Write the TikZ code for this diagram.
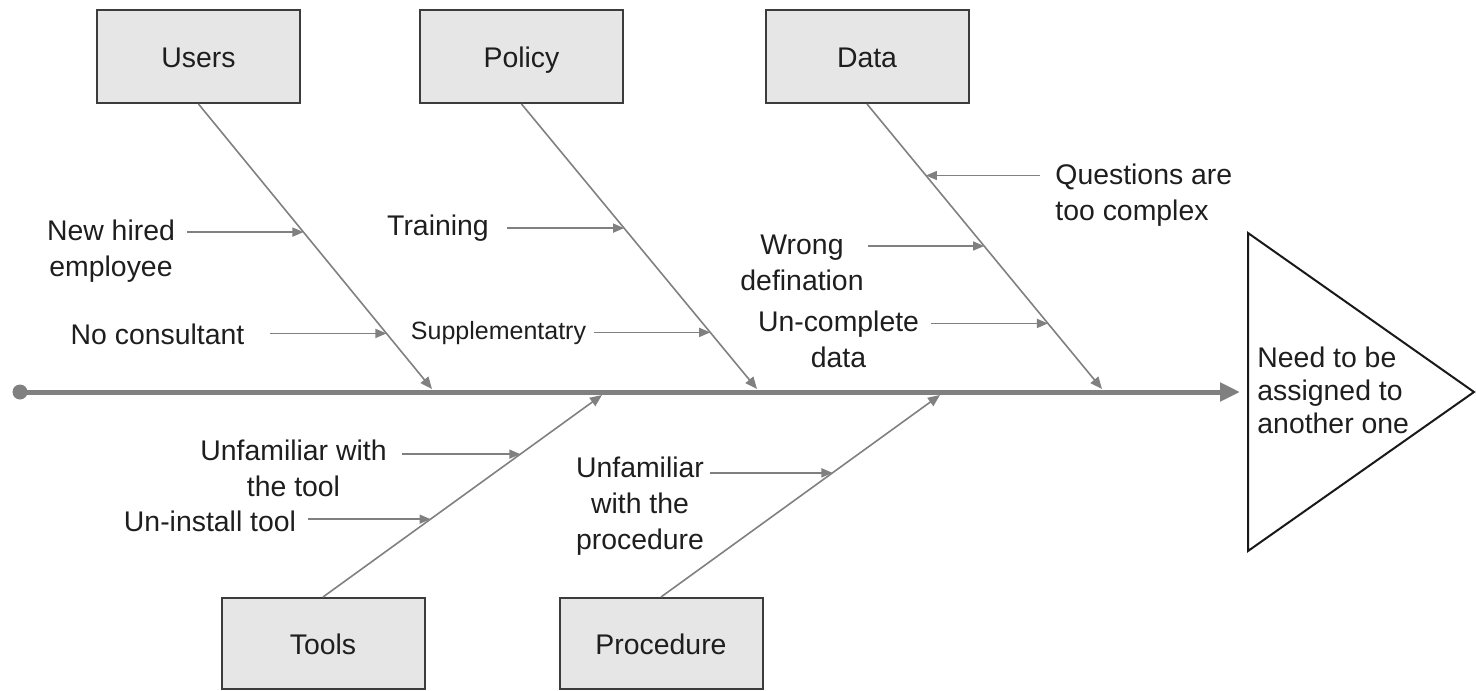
\documentclass[tikz,border=0pt]{standalone}
\usepackage{fontspec}
\setmainfont{Liberation Sans}
\usetikzlibrary{arrows.meta,calc}
\definecolor{bonegray}{RGB}{128,128,128}
\definecolor{boxfill}{RGB}{230,230,230}
\definecolor{boxline}{RGB}{60,60,60}
\definecolor{txt}{RGB}{30,30,30}

\begin{document}
\begin{tikzpicture}[x=0.5pt,y=-0.5pt,
  cat/.style={draw=boxline, line width=1pt, fill=boxfill, minimum width=101.5pt,
    minimum height=46.5pt, inner sep=0pt, text height=11.2pt, text depth=0pt,
    font=\fontsize{14.2}{17}\selectfont, text=txt},
  lbl/.style={inner sep=0pt, align=center, font=\fontsize{14.2}{18}\selectfont, text=txt},
  bone/.style={draw=bonegray, line width=0.8pt, -{Triangle[length=6pt,width=5pt]}},
  sarrow/.style={draw=bonegray, line width=0.8pt, -{Triangle[length=5.5pt,width=4.5pt]}},
  spine/.style={draw=bonegray, line width=2.5pt, -{Triangle[length=10pt,width=9pt]}},
]
\useasboundingbox (0,0) rectangle (1476,690);

% main spine
\node[circle, fill=bonegray, inner sep=0pt, minimum size=7.5pt] (tail) at (20,392) {};
\coordinate (head) at (1240,392);
\draw[spine] (tail.center) -- (head);

% effect
\coordinate (effect) at (1248,392);
\draw[draw=black!90, line width=1pt] (1248,233) -- (1474,392) -- (1248,551) -- cycle;
\node[lbl, anchor=west, align=left, font=\fontsize{14.2}{16.5}\selectfont] (effecttext) at (1257,390)
  {Need to be\\assigned to\\another one};

% category boxes
\node[cat] (users) at (198.5,56.5) {Users};
\node[cat] (policy) at (521.5,56.5) {Policy};
\node[cat] (data) at (867,56.5) {Data};
\node[cat, minimum height=45.5pt] (tools) at (323,643.5) {Tools};
\node[cat, minimum height=45.5pt] (procedure) at (661,643.5) {Procedure};

% bones ending on the spine
\coordinate (ue) at (432,389);
\coordinate (pe) at (757,389);
\coordinate (de) at (1102,389);
\coordinate (te) at (602,395);
\coordinate (re) at (940,395);
\draw[bone] (users.south) -- (ue);
\draw[bone] (policy.south) -- (pe);
\draw[bone] (data.south) -- (de);
\draw[bone] (tools.north) -- (te);
\draw[bone] (procedure.north) -- (re);

% points on the bones where the causes meet them
\coordinate (u1) at ($(users.south)!0.4495!(ue)$);
\coordinate (u2) at ($(users.south)!0.805!(ue)$);
\coordinate (p1) at ($(policy.south)!0.4355!(pe)$);
\coordinate (p2) at ($(policy.south)!0.8014!(pe)$);
\coordinate (d1) at ($(data.south)!0.2509!(de)$);
\coordinate (d2) at ($(data.south)!0.4983!(de)$);
\coordinate (d3) at ($(data.south)!0.770!(de)$);
\coordinate (t1) at ($(tools.north)!0.7073!(te)$);
\coordinate (t2) at ($(tools.north)!0.3854!(te)$);
\coordinate (r1) at ($(procedure.north)!0.6146!(re)$);

% causes
\node[lbl] (newhired) at (111,251) {New hired\\employee};
\node[lbl] (nocons) at (157.5,334) {No consultant};
\node[lbl] (training) at (438,228) {Training};
\node[lbl, font=\fontsize{12.5}{15}\selectfont] (supp) at (498.5,333) {Supplementatry};
\node[lbl, anchor=west, align=left] (questions) at (1055,195.5) {Questions are\\too complex};
\node[lbl] (wrongdef) at (802,262.5) {Wrong\\defination};
\node[lbl] (uncomplete) at (838.5,339) {Un-complete\\data};
\node[lbl] (unftool) at (293.5,468.5) {Unfamiliar with\\the tool};
\node[lbl] (uninstall) at (210,521) {Un-install tool};
\node[lbl] (unfproc) at (640,506.5) {Unfamiliar\\with the\\procedure};

\draw[sarrow] ($(newhired.east |- u1)+(12,0)$) -- (u1);
\draw[sarrow] ($(nocons.east |- u2)+(25,0)$) -- (u2);
\draw[sarrow] ($(training.east |- p1)+(18,0)$) -- (p1);
\draw[sarrow] ($(supp.east |- p2)+(8,0)$) -- (p2);
\draw[sarrow] ($(questions.west |- d1)+(-15,0)$) -- (d1);
\draw[sarrow] ($(wrongdef.east |- d2)+(4,0)$) -- (d2);
\draw[sarrow] ($(uncomplete.east |- d3)+(12,0)$) -- (d3);
\draw[sarrow] ($(unftool.east |- t1)+(15,0)$) -- (t1);
\draw[sarrow] ($(uninstall.east |- t2)+(12,0)$) -- (t2);
\draw[sarrow] ($(unfproc.east |- r1)+(6,0)$) -- (r1);
\end{tikzpicture}
\end{document}
